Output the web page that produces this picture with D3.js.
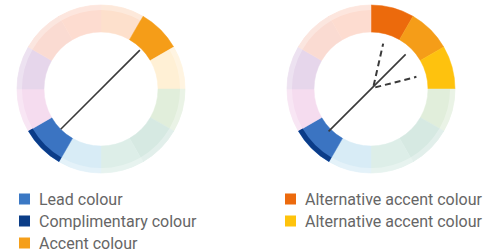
<!DOCTYPE html>
<html>
<head>
<meta charset="utf-8">
<script src="https://cdn.jsdelivr.net/npm/d3@7"></script>
<style>
  html, body { margin: 0; padding: 0; background: #fff; }
  text { font-family: Roboto, "Noto Sans", sans-serif; }
</style>
</head>
<body>
<div id="container"></div>
<script>
var width = 487;
var height = 251;

// 12 segments, clockwise from 12 o'clock
var segments = d3.range(12);
var baseColours = ['#fde0cc', '#fee8d2', '#fff0d5', '#e1eedb', '#d6e9e2', '#ddeee8',
                   '#d8ecf6', '#d8e8f4', '#f5dcef', '#e6d6eb', '#fadbd2', '#fddcd0'];
var leftHighlights = [[1, '#f59d18'], [7, '#3b74c2']];
var rightHighlights = [[0, '#ec6a0c'], [1, '#f59d18'], [2, '#fec20e'], [7, '#3b74c2']];
var complimentSegment = 7;
var complimentColour = '#0b3c88';

// lines drawn across the wheel (angles in degrees from 12 o'clock)
var leftSolid = [[225, 57], [45, 55]];
var rightSolid = [[225, 60], [45, 49]];
var rightDashed = [[15, 47], [75, 47]];

var leftLegend = ['Lead colour', 'Complimentary colour', 'Accent colour'];
var leftLegendColours = ['#3b78c4', '#0b3d87', '#f59f1a'];
var rightLegend = ['Alternative accent colour', 'Alternative accent colour'];
var rightLegendColours = ['#ec6a0d', '#fec30c'];

var outerR = 84;
var innerR = 57;

var svg = d3.select('#container').append('svg')
    .attr('width', width).attr('height', height);

var angle = d3.scaleBand().domain(segments).range([0, 2 * Math.PI]);
var rad = d3.scaleLinear().domain([0, 360]).range([0, 2 * Math.PI]);

function drawWheel(cx, cy, highlights, solid, dashed) {
    var g = svg.append('g').attr('transform', 'translate(' + cx + ',' + cy + ')');
    var hl = new Map(highlights);
    var arc = d3.arc().innerRadius(innerR).outerRadius(outerR);
    var rim = d3.arc().innerRadius(outerR - 5).outerRadius(outerR);

    g.selectAll('path.seg').data(segments).join('path')
        .attr('class', 'seg')
        .attr('d', function(d){ return arc({startAngle: angle(d), endAngle: angle(d) + angle.bandwidth()}); })
        .attr('fill', function(d){ return hl.get(d) || baseColours[d]; })
        .attr('stroke', function(d){ return hl.get(d) || baseColours[d]; })
        .attr('stroke-width', 0.5);

    // lighter outer rim on the pale segments
    g.selectAll('path.rim').data(segments.filter(function(d){ return !hl.has(d); })).join('path')
        .attr('class', 'rim')
        .attr('d', function(d){ return rim({startAngle: angle(d), endAngle: angle(d) + angle.bandwidth()}); })
        .attr('fill', '#fff').attr('opacity', 0.3);

    // dark strip on the lead segment
    g.append('path')
        .attr('d', d3.arc().innerRadius(outerR - 5).outerRadius(outerR)({
            startAngle: angle(complimentSegment), endAngle: angle(complimentSegment) + angle.bandwidth()}))
        .attr('fill', complimentColour);

    function pt(a, r) {
        return [r * Math.sin(rad(a)), -r * Math.cos(rad(a))];
    }
    var line = d3.line();
    g.append('path')
        .attr('d', line(solid.map(function(p){ return pt(p[0], p[1]); })))
        .attr('stroke', '#3a3a3a').attr('stroke-width', 1.6).attr('fill', 'none');

    if (dashed) {
        var hub = [2, -1];
        dashed.forEach(function(p){
            var e = pt(p[0], p[1]);
            g.append('path')
                .attr('d', line([[hub[0] + e[0] * 0.05, hub[1] + e[1] * 0.05], e]))
                .attr('stroke', '#3a3a3a').attr('stroke-width', 2)
                .attr('stroke-dasharray', '6,4').attr('fill', 'none');
        });
    }
}

drawWheel(101, 89, leftHighlights, leftSolid, null);
drawWheel(371, 89, rightHighlights, rightSolid, rightDashed);

function drawLegend(x, y0, labels, colours) {
    var rows = d3.scaleLinear().domain([0, 1]).range([y0, y0 + 22]);
    var g = svg.append('g');
    labels.forEach(function(l, i){
        g.append('rect')
            .attr('x', x).attr('y', rows(i) - 5.5)
            .attr('width', 11).attr('height', 11)
            .attr('fill', colours[i]);
        g.append('text')
            .attr('x', x + 20).attr('y', rows(i) + 5.5)
            .attr('font-size', 16).attr('fill', '#666')
            .text(l);
    });
}

drawLegend(19, 199, leftLegend, leftLegendColours);
drawLegend(285, 199, rightLegend, rightLegendColours);
</script>
</body>
</html>
